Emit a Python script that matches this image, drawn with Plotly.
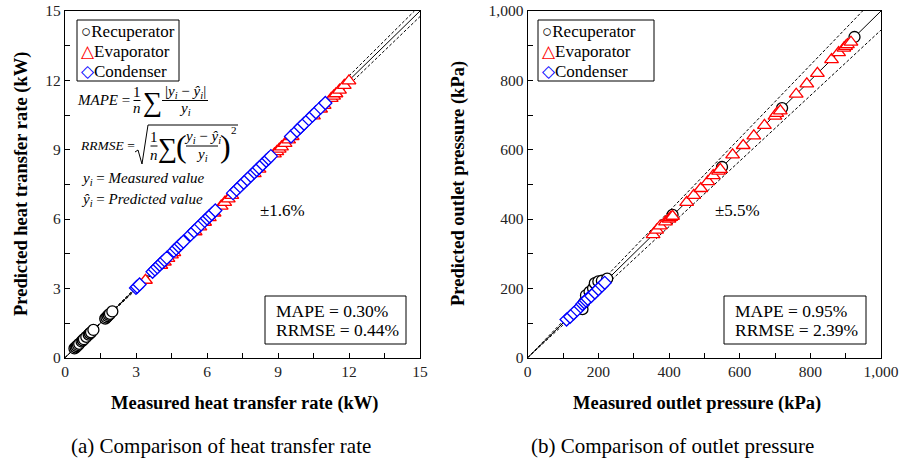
import plotly.graph_objects as go

# ---------------- data ----------------
heat_rec_meas = [0.40, 0.45, 0.50, 0.55, 0.60, 0.70, 0.75, 0.80, 0.90, 1.00, 1.05, 1.10, 1.20,
                 1.70, 1.75, 1.80, 1.85, 1.90, 2.00]
heat_rec_pred = [0.40, 0.45, 0.50, 0.55, 0.60, 0.70, 0.75, 0.80, 0.90, 1.00, 1.05, 1.10, 1.20,
                 1.69, 1.74, 1.80, 1.85, 1.90, 2.00]
heat_evap_meas = [3.40, 4.05, 4.20, 4.35, 4.50, 4.60, 5.50, 5.70, 5.90, 6.10, 6.30, 6.60, 6.75, 6.90,
                  7.05, 8.00, 8.20, 8.85, 8.95, 9.05, 9.15, 9.30, 9.45, 9.60, 10.50, 10.80, 10.95,
                  11.25, 11.35, 11.45, 11.60, 11.80, 12.00]
heat_evap_pred = [3.35, 4.00, 4.14, 4.30, 4.45, 4.55, 5.45, 5.66, 5.86, 6.06, 6.26, 6.56, 6.72, 6.87,
                  7.02, 7.96, 8.16, 8.82, 8.92, 9.02, 9.12, 9.27, 9.42, 9.57, 10.46, 10.76, 10.92,
                  11.22, 11.32, 11.42, 11.58, 11.78, 11.98]
heat_cond_meas = [3.00, 3.05, 3.15, 3.70, 3.80, 3.90, 4.00, 4.10, 4.20, 4.30, 4.60, 4.70, 4.80, 4.90,
                  5.00, 5.30, 5.45, 5.60, 5.75, 5.90, 6.00, 6.10, 6.20, 6.35, 7.10, 7.25, 7.40, 7.55,
                  7.70, 7.85, 8.00, 8.10, 8.20, 8.35, 8.50, 8.60, 8.70, 9.55, 9.80, 9.95, 10.10,
                  10.30, 10.45, 10.60, 10.80, 11.00]
heat_cond_pred = [3.02, 3.07, 3.17, 3.72, 3.82, 3.92, 4.02, 4.12, 4.22, 4.32, 4.62, 4.72, 4.82, 4.92,
                  5.02, 5.32, 5.47, 5.62, 5.77, 5.92, 6.02, 6.12, 6.22, 6.37, 7.12, 7.27, 7.42, 7.57,
                  7.72, 7.87, 8.02, 8.12, 8.22, 8.37, 8.52, 8.62, 8.72, 9.57, 9.82, 9.97, 10.12,
                  10.32, 10.47, 10.62, 10.82, 11.02]

pres_rec_meas = [155, 160, 165, 175, 185, 190, 200, 210, 225, 410, 550, 720, 925]
pres_rec_pred = [140, 160, 180, 190, 200, 215, 220, 222, 228, 412, 550, 720, 925]
pres_evap_meas = [355, 365, 375, 390, 400, 405, 410, 450, 470, 490, 510, 525, 540, 545, 580, 610,
                  640, 670, 700, 705, 715, 760, 790, 820, 860, 880, 895, 900, 905, 915]
pres_evap_pred = [355, 368, 380, 392, 400, 405, 408, 448, 468, 488, 508, 525, 538, 543, 585, 612,
                  640, 670, 697, 705, 712, 760, 790, 820, 860, 880, 893, 898, 903, 910]
pres_cond_meas = [110, 120, 130, 140, 150, 155, 160, 165, 170, 180, 190, 200, 210, 218]
pres_cond_pred = [110, 118, 128, 138, 148, 155, 160, 165, 170, 178, 188, 198, 208, 216]

heat_band = 0.016
pres_band = 0.055
heat_max = 15
pres_max = 1000

heat_ticks = [0, 3, 6, 9, 12, 15]
pres_ticks = [0, 200, 400, 600, 800, 1000]

series_names = ["Recuperator", "Evaporator", "Condenser"]
series_colors = ["black", "red", "blue"]
series_symbols = ["circle", "triangle-up", "diamond"]
series_sizes = [11, 12, 10]
series_glyphs = ["○", "△", "◇"]

W, H = 899, 461
SERIF = "Liberation Serif, Times New Roman, serif"
MATH = "Liberation Serif, serif"


def px(x):
    return x / W


def py(y):
    return 1 - y / H


fig = go.Figure()

panels = [
    ("x", "y", [(heat_rec_meas, heat_rec_pred), (heat_evap_meas, heat_evap_pred),
                (heat_cond_meas, heat_cond_pred)], heat_max, heat_band),
    ("x2", "y2", [(pres_rec_meas, pres_rec_pred), (pres_evap_meas, pres_evap_pred),
                  (pres_cond_meas, pres_cond_pred)], pres_max, pres_band),
]

for xa, ya, data, vmax, band in panels:
    # reference lines
    fig.add_trace(go.Scatter(x=[0, vmax], y=[0, vmax], mode="lines", xaxis=xa, yaxis=ya,
                             line=dict(color="black", width=1), showlegend=False, hoverinfo="skip"))
    fig.add_trace(go.Scatter(x=[0, vmax / (1 + band)], y=[0, vmax], mode="lines", xaxis=xa, yaxis=ya,
                             line=dict(color="black", width=1, dash="3px,2px"), showlegend=False,
                             hoverinfo="skip"))
    fig.add_trace(go.Scatter(x=[0, vmax], y=[0, vmax * (1 - band)], mode="lines", xaxis=xa, yaxis=ya,
                             line=dict(color="black", width=1, dash="3px,2px"), showlegend=False,
                             hoverinfo="skip"))
    for (mx, my), name, col, sym, sz in zip(data, series_names, series_colors, series_symbols,
                                            series_sizes):
        fig.add_trace(go.Scatter(x=mx, y=my, mode="markers", name=name, xaxis=xa, yaxis=ya,
                                 marker=dict(symbol=sym, size=sz, color="white",
                                             line=dict(color=col, width=1.3)),
                                 showlegend=False))

ydom = [py(357.7), py(11)]
axis_common = dict(showline=True, linecolor="black", linewidth=1.3, mirror=True, showgrid=False,
                   zeroline=False, ticks="inside", ticklen=5, tickcolor="black", tickwidth=1,
                   automargin=False, ticklabeloverflow="allow",
                   tickfont=dict(family=SERIF, size=15.5, color="#222"))

fig.update_layout(
    width=W, height=H, margin=dict(l=0, r=0, t=0, b=0, autoexpand=False),
    paper_bgcolor="white", plot_bgcolor="white", showlegend=False,
    xaxis=dict(domain=[px(65), px(420)], range=[0, heat_max], tickvals=heat_ticks, anchor="y",
               minor=dict(ticks="inside", ticklen=5, dtick=1.5, tick0=0, tickcolor="black"),
               **axis_common),
    yaxis=dict(domain=ydom, range=[0, heat_max], tickvals=heat_ticks, anchor="x",
               minor=dict(ticks="inside", ticklen=5, dtick=1.5, tick0=0, tickcolor="black"),
               **axis_common),
    xaxis2=dict(domain=[px(527.7), px(881)], range=[0, pres_max], tickvals=pres_ticks, anchor="y2",
                tickformat=",", minor=dict(ticks="inside", ticklen=5, dtick=100, tick0=0,
                                           tickcolor="black"),
                **axis_common),
    yaxis2=dict(domain=ydom, range=[0, pres_max], tickvals=pres_ticks, anchor="x2",
                tickformat=",", minor=dict(ticks="inside", ticklen=5, dtick=100, tick0=0,
                                           tickcolor="black"),
                **axis_common),
)

ann = []
shapes = []


def text(x, y, s, size=16, family=SERIF, xanchor="center", yanchor="middle", color="black",
         textangle=0):
    ann.append(dict(x=px(x), y=py(y), xref="paper", yref="paper", text=s, showarrow=False,
                    xanchor=xanchor, yanchor=yanchor, textangle=textangle, borderpad=0,
                    font=dict(family=family, size=size, color=color)))


def hline(x0, x1, y, width=1):
    shapes.append(dict(type="line", xref="paper", yref="paper", x0=px(x0), x1=px(x1),
                       y0=py(y), y1=py(y), line=dict(color="black", width=width)))


def rect(x0, y0, x1, y1):
    shapes.append(dict(type="rect", xref="paper", yref="paper", x0=px(x0), x1=px(x1),
                       y0=py(y1), y1=py(y0), line=dict(color="black", width=1),
                       fillcolor="rgba(0,0,0,0)"))


# axis titles
text(245, 403, "<b>Measured heat transfer rate (kW)</b>", size=18.5)
text(21, 184, "<b>Predicted heat transfer rate (kW)</b>", size=18.5, textangle=-90)
text(697, 403, "<b>Measured outlet pressure (kPa)</b>", size=18.5)
text(458, 184, "<b>Predicted outlet pressure (kPa)</b>", size=18.5, textangle=-90)

# captions
text(221, 446, "(a) Comparison of heat transfer rate", size=21)
text(672, 446, "(b) Comparison of outlet pressure", size=21)

# band labels
text(282, 210, "±1.6%", size=17)
text(737, 210, "±5.5%", size=17)

# metric boxes
rect(265, 296, 406, 344)
text(275, 311, "MAPE = 0.30%", size=17.5, xanchor="left")
text(275, 330, "RRMSE = 0.44%", size=17.5, xanchor="left")
rect(724, 296, 866, 344)
text(734, 311, "MAPE = 0.95%", size=17.5, xanchor="left")
text(734, 330, "RRMSE = 2.39%", size=17.5, xanchor="left")

# legends (manual, Excel-like)
for bx0, bx1 in [(77, 179), (538, 654)]:
    rect(bx0, 20, bx1, 81)
    for i, (name, col, g) in enumerate(zip(series_names, series_colors, series_glyphs)):
        yy = 31 + 20 * i
        text(bx0 + 3, yy, f"<span style='color:{col}'>{g}</span>{name}", size=17,
             xanchor="left")

# equations
ms = 15
text(131, 100, "<i>MAPE</i> =", size=ms, family=MATH, xanchor="right")
text(137, 92, "1", size=ms, family=MATH)
hline(133.5, 140.5, 100.5)
text(137, 108, "<i>n</i>", size=ms, family=MATH)
text(152, 102, "∑", size=27, family=MATH)
text(185, 92, "|<i>y<sub>i</sub></i> − <i>ŷ<sub>i</sub></i>|", size=ms, family=MATH)
hline(162, 208, 100.5)
text(185, 109, "<i>y<sub>i</sub></i>", size=ms, family=MATH)

text(79, 146, "<i>RRMSE</i> =", size=13.5, family=MATH, xanchor="left")
shapes.append(dict(type="path", xref="paper", yref="paper",
                   path=f"M {px(135)} {py(152)} L {px(138)} {py(150)} L {px(142)} {py(164)} "
                        f"L {px(148)} {py(125)} L {px(238)} {py(125)}",
                   line=dict(color="black", width=1)))
text(154, 137, "1", size=ms, family=MATH)
hline(150.5, 157.5, 146)
text(154, 155, "<i>n</i>", size=ms, family=MATH)
text(167, 148, "∑", size=27, family=MATH)
text(181.5, 146, "(", size=32, family=MATH)
text(202, 137, "<i>y<sub>i</sub></i> − <i>ŷ<sub>i</sub></i>", size=ms, family=MATH)
hline(186, 218, 146)
text(202, 155, "<i>y<sub>i</sub></i>", size=ms, family=MATH)
text(225, 146, ")", size=32, family=MATH)
text(234, 130, "2", size=11, family=MATH)

text(80, 179, "<i>y<sub>i</sub></i> = <i>Measured value</i>", size=ms, family=MATH, xanchor="left")
text(80, 200, "<i>ŷ<sub>i</sub></i> = <i>Predicted value</i>", size=ms, family=MATH, xanchor="left")

fig.update_layout(annotations=ann, shapes=shapes)
# remove the browser's default 8px body margin so the 899x461 figure fills the window exactly
fig.write_html("out.html", config={"displayModeBar": False},
               post_script="document.body.style.margin='0px';"
                           "document.body.style.overflow='hidden';")
